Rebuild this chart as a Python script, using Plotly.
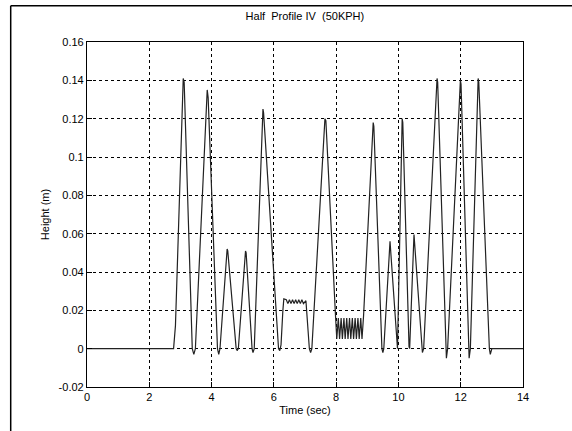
import plotly.graph_objects as go

# (vertices of the trace)
time_s = [0.0, 2.78, 2.84, 3.09, 3.12, 3.38, 3.43, 3.48, 3.86, 3.89, 4.19, 4.23, 4.27,
          4.50, 4.52, 4.79, 4.82, 4.86, 5.09, 5.11, 5.30, 5.33, 5.37, 5.65, 5.67, 6.15, 6.19, 6.23,
          6.29, 6.32, 6.40, 6.45, 6.50, 6.55, 6.60, 6.65, 6.70, 6.75, 6.80, 6.85, 6.90, 6.95, 7.03,
          7.14, 7.18, 7.22, 7.64, 7.67, 7.98,
          8.02, 8.07, 8.11, 8.16, 8.20, 8.25, 8.29, 8.34, 8.38, 8.43, 8.47, 8.52, 8.56, 8.61, 8.65,
          8.70, 8.74, 8.79, 8.83, 8.88,
          9.19, 9.21, 9.47, 9.50, 9.53, 9.73, 9.95, 9.97, 10.12, 10.14, 10.34, 10.36, 10.50,
          10.74, 10.77, 10.81, 11.24, 11.26, 11.51, 11.54, 11.58, 11.99, 12.01, 12.24, 12.27, 12.31,
          12.56, 12.58, 12.92, 12.95, 13.0, 14.0]
height_m = [0.0, 0.0, 0.012, 0.141, 0.139, 0.0, -0.003, 0.0, 0.135, 0.131, 0.0, -0.003, 0.0,
            0.052, 0.051, 0.0, -0.001, 0.0, 0.051, 0.050, 0.0, -0.002, 0.0, 0.125, 0.123, 0.0, -0.001, 0.002,
            0.020, 0.026, 0.0255, 0.0235, 0.0255, 0.0235, 0.0255, 0.0235, 0.0255, 0.0235, 0.0255, 0.0235, 0.0255, 0.0235, 0.025,
            0.0, -0.002, 0.0, 0.120, 0.119, 0.017,
            0.005, 0.016, 0.005, 0.016, 0.005, 0.016, 0.005, 0.016, 0.005, 0.016, 0.005, 0.016, 0.005, 0.016, 0.005,
            0.016, 0.005, 0.016, 0.005, 0.017,
            0.118, 0.116, 0.0, -0.002, 0.0, 0.056, 0.001, 0.0, 0.120, 0.118, 0.001, 0.0, 0.0595,
            0.0, -0.002, 0.0, 0.141, 0.139, 0.0, -0.005, 0.0, 0.140, 0.138, 0.0, -0.005, 0.0,
            0.141, 0.139, 0.0, -0.003, 0.0, 0.0]

x_ticks = [0, 2, 4, 6, 8, 10, 12, 14]
y_ticks = [-0.02, 0, 0.02, 0.04, 0.06, 0.08, 0.1, 0.12, 0.14, 0.16]
y_tick_labels = ["-0.02", "0", "0.02", "0.04", "0.06", "0.08", "0.1", "0.12", "0.14", "0.16"]

FONT = "Liberation Sans, Arial, sans-serif"

fig = go.Figure()
fig.add_trace(go.Scatter(x=time_s, y=height_m, mode="lines",
                         line=dict(color="#222222", width=1.2), showlegend=False))

axis_common = dict(showline=True, linecolor="black", linewidth=1.2, mirror=True,
                   ticks="inside", ticklen=5, tickcolor="black",
                   showgrid=True, gridcolor="black", griddash="3px,3px", gridwidth=1,
                   zeroline=False, tickfont=dict(family=FONT, size=11, color="black"))

fig.update_xaxes(range=[0, 14], tickvals=x_ticks, ticktext=[str(v) for v in x_ticks],
                 title=dict(text="Time (sec)", font=dict(family=FONT, size=11, color="black"), standoff=4),
                 **axis_common)
fig.update_yaxes(range=[-0.02, 0.16], tickvals=y_ticks, ticktext=y_tick_labels,
                 title=dict(text="Height (m)", font=dict(family=FONT, size=11, color="black"), standoff=6),
                 **axis_common)

fig.update_layout(
    width=572, height=431,
    margin=dict(l=87, r=49, t=42, b=44),
    paper_bgcolor="white", plot_bgcolor="white",
    title=dict(text="Half  Profile IV  (50KPH)", x=0.533, xanchor="center", y=0.962, yanchor="middle",
               font=dict(family=FONT, size=11, color="black")),
    shapes=[
        dict(type="line", xref="paper", yref="paper", x0=-0.175, x1=1.12, y0=1.105, y1=1.105,
             line=dict(color="black", width=1.5)),
        dict(type="line", xref="paper", yref="paper", x0=-0.175, x1=-0.175, y0=1.105, y1=-0.13,
             line=dict(color="black", width=1.5)),
    ],
)

fig.write_html("out.html")
